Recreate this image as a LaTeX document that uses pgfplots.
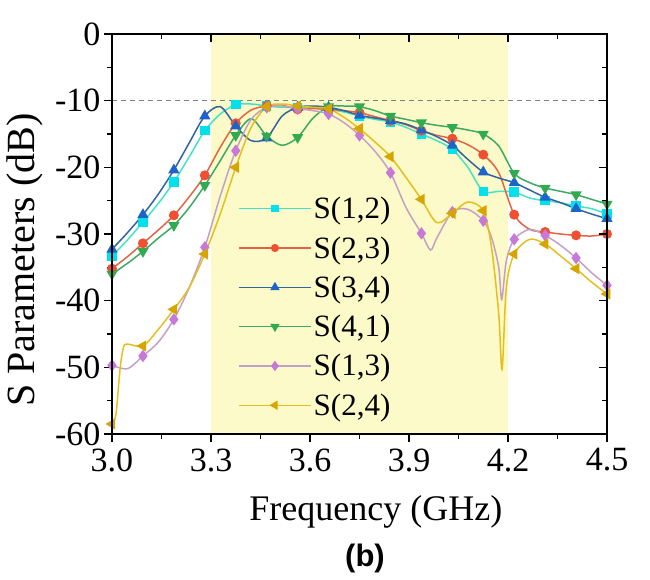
\documentclass[border=0pt]{standalone}
\usepackage{fontspec}
\setmainfont{Liberation Serif}
\newfontfamily\bsans{Liberation Sans}
\usepackage{pgfplots}
\usepackage{pgfplotstable}
\pgfplotsset{compat=1.18}

\definecolor{shade}{RGB}{252,250,200}
\definecolor{cA}{RGB}{70,225,200}  \definecolor{mA}{RGB}{0,225,235}
\definecolor{cB}{RGB}{225,100,70}  \definecolor{mB}{RGB}{240,80,50}
\definecolor{cC}{RGB}{50,100,160}  \definecolor{mC}{RGB}{30,100,200}
\definecolor{cD}{RGB}{60,170,100}  \definecolor{mD}{RGB}{50,170,80}
\definecolor{cE}{RGB}{195,160,200} \definecolor{mE}{RGB}{200,120,215}
\definecolor{cF}{RGB}{230,190,30}  \definecolor{mF}{RGB}{215,165,0}

% S(1,2)
\pgfplotstableread{
f s
3.0000 -33.3
3.0469 -30.9
3.0938 -28.2
3.1406 -25.4
3.1875 -22.2
3.2344 -18.4
3.2813 -14.5
3.3281 -12.0
3.3750 -10.6
3.4219 -10.5
3.4688 -10.8
3.5156 -11.0
3.5625 -11.0
3.6094 -11.1
3.6563 -11.3
3.7031 -11.7
3.7500 -12.3
3.7969 -12.8
3.8438 -13.2
3.8906 -14.0
3.9375 -15.0
3.9844 -16.0
4.0313 -17.3
4.0781 -20.0
4.1250 -23.6
4.1719 -23.6
4.2188 -23.7
4.2656 -24.6
4.3125 -25.0
4.3594 -25.3
4.4063 -25.8
4.4531 -26.2
4.5000 -27.0
}\tabA
% S(2,3)
\pgfplotstableread{
f s
3.0000 -35.2
3.0469 -33.4
3.0938 -31.4
3.1406 -29.4
3.1875 -27.2
3.2344 -24.4
3.2813 -21.2
3.3281 -17.0
3.3750 -13.4
3.4219 -11.4
3.4688 -10.8
3.5156 -10.7
3.5625 -11.3
3.6094 -11.2
3.6563 -11.3
3.7031 -11.5
3.7500 -11.8
3.7969 -12.4
3.8438 -13.0
3.8906 -13.6
3.9375 -14.5
3.9844 -15.2
4.0313 -15.7
4.0781 -16.6
4.1250 -18.1
4.1719 -20.8
4.2188 -27.1
4.2656 -29.3
4.3125 -29.7
4.3594 -30.0
4.4063 -30.2
4.4531 -30.3
4.5000 -30.0
}\tabB
% S(3,4)
\pgfplotstableread{
f s
3.0000 -32.3
3.0469 -29.8
3.0938 -27.1
3.1406 -24.0
3.1875 -20.4
3.2344 -16.3
3.2813 -12.3
3.3281 -10.9
3.3750 -13.8
3.4219 -16.0
3.4688 -15.6
3.5156 -12.3
3.5625 -11.0
3.6094 -10.8
3.6563 -11.0
3.7031 -11.5
3.7500 -12.2
3.7969 -12.6
3.8438 -13.0
3.8906 -13.5
3.9375 -14.4
3.9844 -15.4
4.0313 -16.7
4.0781 -18.8
4.1250 -20.7
4.1719 -21.6
4.2188 -22.3
4.2656 -23.4
4.3125 -24.5
4.3594 -25.3
4.4063 -26.2
4.4531 -27.0
4.5000 -27.7
}\tabC
% S(4,1)
\pgfplotstableread{
f s
3.0000 -36.0
3.0469 -34.4
3.0938 -32.6
3.1406 -30.6
3.1875 -28.7
3.2344 -26.0
3.2813 -22.7
3.3281 -19.0
3.3750 -15.2
3.4219 -12.7
3.4688 -15.3
3.5156 -16.7
3.5625 -15.5
3.6094 -12.6
3.6563 -10.9
3.7031 -10.8
3.7500 -10.9
3.7969 -11.5
3.8438 -12.3
3.8906 -12.8
3.9375 -13.3
3.9844 -13.7
4.0313 -14.0
4.0781 -14.4
4.1250 -15.0
4.1719 -16.8
4.2188 -20.9
4.2656 -22.3
4.3125 -23.1
4.3594 -23.6
4.4063 -24.1
4.4531 -24.8
4.5000 -25.5
}\tabD
% S(1,3)
\pgfplotstableread{
f s
3.0000 -49.7
3.0469 -50.2
3.0938 -48.3
3.1406 -46.2
3.1875 -42.8
3.2344 -38.0
3.2813 -32.0
3.3281 -24.3
3.3750 -17.5
3.4219 -12.8
3.4688 -11.0
3.5156 -10.8
3.5625 -11.2
3.6094 -11.5
3.6563 -12.0
3.7031 -13.3
3.7500 -15.2
3.7969 -17.6
3.8438 -20.8
3.8906 -26.0
3.9375 -29.9
3.9650 -32.4
3.9844 -30.6
4.0313 -26.7
4.0781 -26.3
4.1250 -28.0
4.1500 -30.5
4.1719 -35.0
4.1810 -39.8
4.1950 -34.0
4.2188 -30.8
4.2656 -29.3
4.3125 -30.2
4.3594 -31.7
4.4063 -33.6
4.4531 -35.8
4.5000 -37.7
}\tabE
% S(2,4)
\pgfplotstableread{
f s
3.0000 -58.5
3.0120 -57.0
3.0250 -50.0
3.0350 -47.0
3.0469 -46.5
3.0938 -46.8
3.1406 -44.3
3.1875 -41.3
3.2344 -38.0
3.2813 -33.0
3.3281 -27.0
3.3750 -20.0
3.4219 -14.0
3.4688 -10.9
3.5156 -10.5
3.5625 -10.8
3.6094 -11.0
3.6563 -11.2
3.7031 -12.5
3.7500 -14.2
3.7969 -16.2
3.8438 -18.4
3.8906 -21.5
3.9375 -24.8
3.9844 -28.3
4.0313 -26.9
4.0781 -25.2
4.1250 -26.5
4.1500 -32.0
4.1719 -42.0
4.1820 -50.3
4.1950 -38.0
4.2188 -33.0
4.2656 -30.8
4.3125 -31.5
4.3594 -33.3
4.4063 -35.2
4.4531 -37.2
4.5000 -39.0
}\tabF

\pgfplotsset{
  commonaxis/.style={
    at={(112pt,145pt)}, anchor=south west,
    scale only axis, width=495pt, height=400pt,
    xmin=3, xmax=4.5, ymin=-60, ymax=0,
    xtick={3,3.3,3.6,3.9,4.2,4.5},
    ytick={0,-10,-20,-30,-40,-50,-60},
    minor x tick num=1, minor y tick num=1,
    major tick length=8pt, minor tick length=5pt,
    every tick/.style={black, line width=1.5pt},
    axis line style={line width=1.8pt},
  },
  ser/.style={line width=1.5pt, smooth, tension=0.5, forget plot},
}

\begin{document}
\begin{tikzpicture}
\useasboundingbox (0,0) rectangle (650pt,579pt);
\begin{axis}[
  commonaxis,
  xticklabels={3.0,3.3,3.6,3.9,4.2,4.5},
  yticklabels={0,-10,-20,-30,-40,-50,-60},
  tick align=outside, xtick pos=left, ytick pos=left,
  tick label style={font=\fontsize{34}{34}\selectfont},
  xticklabel style={yshift=-3pt},
  xlabel={Frequency (GHz)},
  ylabel={S Parameters (dB)},
  xlabel style={font=\fontsize{36}{36}\selectfont, at={(axis description cs:0.533,-0.215)}, anchor=base},
  ylabel style={font=\fontsize{40}{40}\selectfont, at={(axis description cs:-0.1758,0.435)}, anchor=center},
  legend image code/.code={\draw[mark repeat=2,mark phase=2,#1] plot coordinates {(0pt,0pt) (36pt,0pt) (72pt,0pt)};},
  legend style={at={(0.2485,0.6025)}, anchor=north west, draw=none, fill=none,
    font=\fontsize{31}{31}\selectfont, nodes={inner sep=2pt}, row sep=12.3pt},
  legend cell align=left,
]
\addplot[fill=shade, draw=none, forget plot] coordinates {(3.3,-60) (4.2,-60) (4.2,0) (3.3,0)} -- cycle;
\addplot[color=gray, line width=1.2pt, dash pattern=on 5pt off 4pt, forget plot] coordinates {(3,-10) (4.5,-10)};

\addplot[ser, cA, mark=square*, mark size=4pt, mark options={draw=mA, fill=mA, solid},
  mark indices={1,3,5,7,9,11,13,15,17,19,21,23,25,27,29,31,33}] table {\tabA};
\addplot[ser, cB, mark=*, mark size=4.2pt, mark options={draw=mB, fill=mB, solid},
  mark indices={1,3,5,7,9,11,13,15,17,19,21,23,25,27,29,31,33}] table {\tabB};
\addplot[ser, cC, mark=triangle*, mark size=5pt, mark options={draw=mC, fill=mC, solid},
  mark indices={1,3,5,7,9,11,13,15,17,19,21,23,25,27,29,31,33}] table {\tabC};
\addplot[ser, cD, mark=triangle*, mark size=5pt, mark options={draw=mD, fill=mD, solid, rotate=180},
  mark indices={1,3,5,7,9,11,13,15,17,19,21,23,25,27,29,31,33}] table {\tabD};
\addplot[ser, cE, mark=diamond*, mark size=5pt, mark options={draw=mE, fill=mE, solid},
  mark indices={1,3,5,7,9,11,13,15,17,19,21,24,26,31,33,35,37}] table {\tabE};
\addplot[ser, cF, mark=triangle*, mark size=5pt, mark options={draw=mF, fill=mF, solid, rotate=90},
  mark indices={1,6,8,10,12,14,16,18,20,22,24,26,28,33,35,37,39}] table {\tabF};

\addlegendimage{cA, line width=1.5pt, mark=square*, mark size=3pt, mark options={draw=mA, fill=mA}}
\addlegendentry{S(1,2)}
\addlegendimage{cB, line width=1.5pt, mark=*, mark size=3.3pt, mark options={draw=mB, fill=mB}}
\addlegendentry{S(2,3)}
\addlegendimage{cC, line width=1.5pt, mark=triangle*, mark size=4pt, mark options={draw=mC, fill=mC}}
\addlegendentry{S(3,4)}
\addlegendimage{cD, line width=1.5pt, mark=triangle*, mark size=4pt, mark options={draw=mD, fill=mD, rotate=180}}
\addlegendentry{S(4,1)}
\addlegendimage{cE, line width=1.5pt, mark=diamond*, mark size=4pt, mark options={draw=mE, fill=mE}}
\addlegendentry{S(1,3)}
\addlegendimage{cF, line width=1.5pt, mark=triangle*, mark size=4pt, mark options={draw=mF, fill=mF, rotate=90}}
\addlegendentry{S(2,4)}
\end{axis}
\begin{axis}[
  commonaxis,
  xticklabels={}, yticklabels={},
  tick align=inside, xtick pos=right, ytick pos=right,
]
\end{axis}
\node[font={\bsans\bfseries\fontsize{31}{31}\selectfont}] at (365pt,21pt) {(b)};
\end{tikzpicture}
\end{document}
